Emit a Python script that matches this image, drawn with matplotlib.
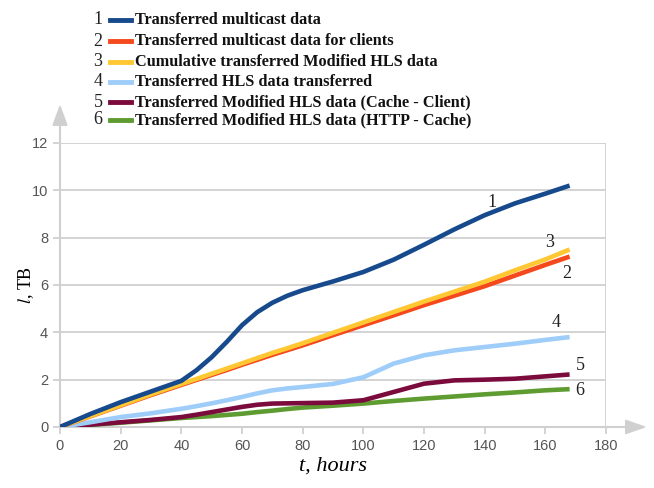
import matplotlib.pyplot as plt
from matplotlib.lines import Line2D
from matplotlib.patches import Polygon

plt.rcParams['mathtext.fontset'] = 'stix'

hours = [0, 10, 20, 30, 40, 45, 50, 55, 60, 65, 70, 75, 80, 90, 100, 110, 120, 130, 140, 150, 160, 168]

multicast = [0, 0.55, 1.05, 1.5, 1.95, 2.4, 2.95, 3.6, 4.3, 4.85, 5.25, 5.55, 5.78, 6.15, 6.55, 7.07, 7.7, 8.35, 8.95, 9.45, 9.86, 10.2]
multicast_clients = [0, 0.45, 0.9, 1.35, 1.78, 1.99, 2.2, 2.41, 2.63, 2.84, 3.05, 3.25, 3.45, 3.88, 4.3, 4.72, 5.15, 5.55, 5.95, 6.4, 6.85, 7.2]
cumulative_mhls = [0, 0.46, 0.92, 1.38, 1.82, 2.03, 2.25, 2.47, 2.69, 2.91, 3.13, 3.33, 3.54, 3.98, 4.42, 4.86, 5.3, 5.72, 6.14, 6.62, 7.08, 7.5]
hls = [0, 0.2, 0.42, 0.58, 0.77, 0.88, 1.0, 1.13, 1.27, 1.42, 1.55, 1.63, 1.69, 1.82, 2.1, 2.68, 3.03, 3.24, 3.38, 3.52, 3.68, 3.8]
mhls_cache_client = [0, 0.1, 0.2, 0.3, 0.42, 0.52, 0.63, 0.74, 0.85, 0.94, 0.99, 1.0, 1.01, 1.03, 1.13, 1.48, 1.83, 1.97, 2.0, 2.04, 2.14, 2.22]
mhls_http_cache = [0, 0.09, 0.18, 0.28, 0.38, 0.42, 0.46, 0.51, 0.56, 0.63, 0.69, 0.76, 0.82, 0.9, 0.99, 1.1, 1.2, 1.29, 1.38, 1.46, 1.55, 1.6]

series = [multicast, multicast_clients, cumulative_mhls, hls, mhls_cache_client, mhls_http_cache]
names = ['Transferred multicast data',
         'Transferred multicast data for clients',
         'Cumulative transferred Modified HLS data',
         'Transferred HLS data transferred',
         'Transferred Modified HLS data (Cache - Client)',
         'Transferred Modified HLS data (HTTP - Cache)']
colors = ['#174a8c', '#f5481c', '#ffc832', '#9fcdfa', '#7a0b3c', '#5e9c31']

# label positions next to the line ends (hours, value)
label_pos = [(142.5, 9.5), (167, 6.5), (161.5, 7.8), (163.5, 4.4), (171.5, 2.6), (171.5, 1.55)]

fig = plt.figure(figsize=(6.54, 4.88), dpi=100)
ax = fig.add_axes([60 / 654, 61 / 488, 546 / 654, 284 / 488])

grid_c = '#d0d0d0'
for v in range(2, 13, 2):
    ax.axhline(v, color=grid_c, lw=1.3, zorder=0)
ax.axvline(180, color=grid_c, lw=1.3, zorder=0)

order = [5, 4, 3, 1, 2, 0]
for i in order:
    ax.plot(hours, series[i], color=colors[i], lw=3.3, solid_capstyle='butt', zorder=3)

for i, (hx, hy) in enumerate(label_pos):
    ax.text(hx, hy, str(i + 1), family='Liberation Serif', fontsize=13,
            ha='center', va='center', color='#222222')

ax.set_xlim(0, 180)
ax.set_ylim(0, 12)
ax.set_xticks(range(0, 181, 20))
ax.set_yticks(range(0, 13, 2))
for s in ax.spines.values():
    s.set_visible(False)
ax.tick_params(colors=grid_c, labelcolor='#555555', labelsize=10.5, width=1.3, length=5)
for lab in ax.get_xticklabels() + ax.get_yticklabels():
    lab.set_family('Liberation Sans')

# axis lines with arrow heads
ax.plot([0, 0], [0, 12.9], color=grid_c, lw=1.5, clip_on=False, zorder=1)
ax.plot([0, 188.5], [0, 0], color=grid_c, lw=1.5, clip_on=False, zorder=1)
ax.add_patch(Polygon([(-2.3, 12.75), (2.3, 12.75), (0, 13.55)], closed=True,
                     color=grid_c, clip_on=False))
ax.add_patch(Polygon([(186.5, -0.28), (186.5, 0.28), (192.8, 0)], closed=True,
                     color=grid_c, clip_on=False))

ax.set_xlabel('t, hours', family='Liberation Serif', style='italic', fontsize=16, labelpad=3)
ax.set_ylabel(r'$l$, TB', family='Liberation Serif', fontsize=13, labelpad=-3)

# legend drawn at the top
row_y = [20, 41, 62, 82, 102, 120]
for i, name in enumerate(names):
    yf = 1 - row_y[i] / 488
    fig.text(98 / 654, yf, str(i + 1), family='Liberation Serif', fontsize=13,
             ha='center', va='center', color='#222222')
    fig.add_artist(Line2D([110 / 654, 131 / 654], [yf, yf], color=colors[i], lw=3.5))
    fig.text(135 / 654, yf, name, family='Liberation Serif', weight='bold', fontsize=11.7,
             ha='left', va='center', color='#111111')

fig.savefig('out.png', dpi=100)
